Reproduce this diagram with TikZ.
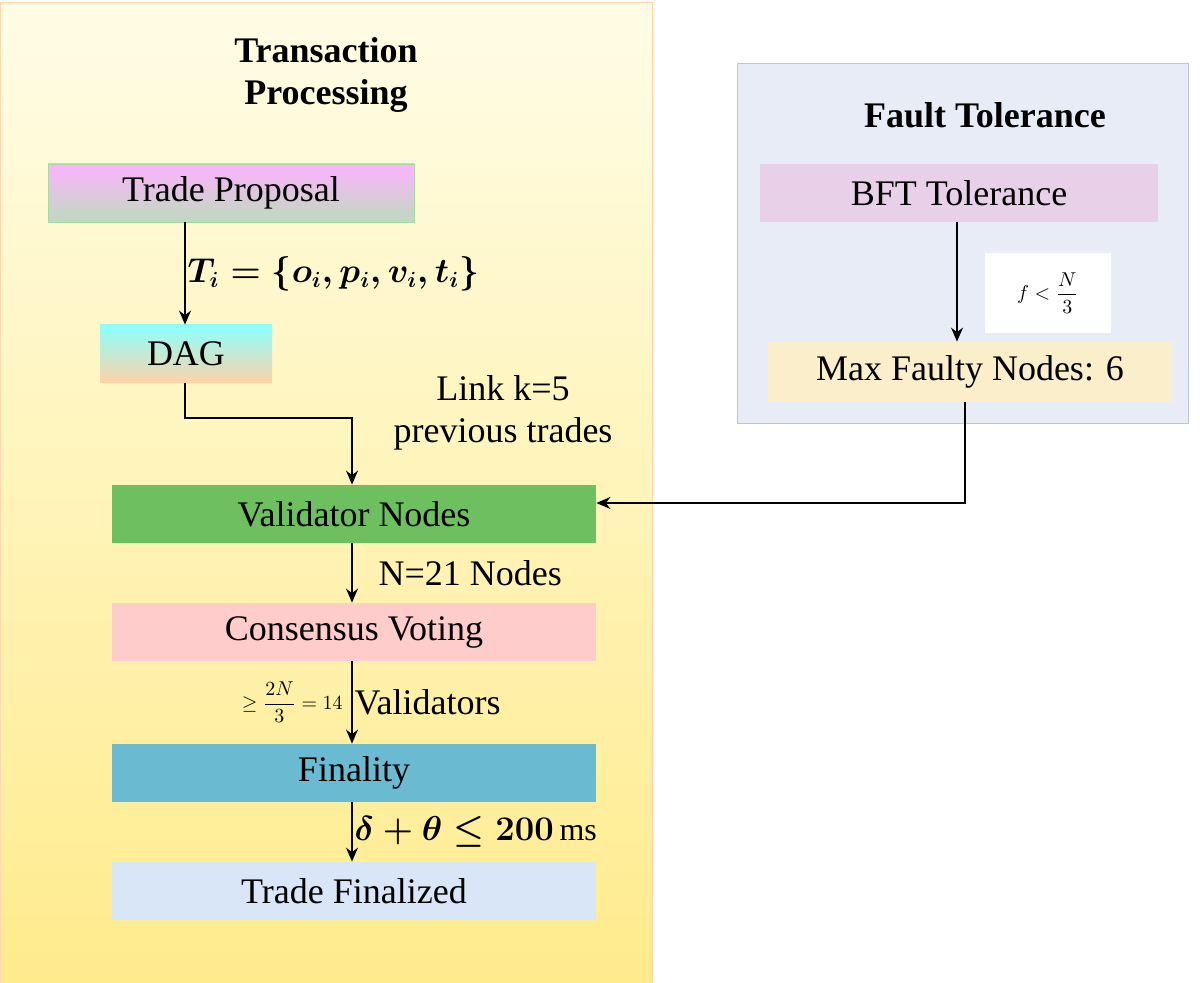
\documentclass[tikz,border=0pt]{standalone}
\usepackage{amsmath}
\usepackage{fontspec}
\setmainfont{Liberation Serif}
\usetikzlibrary{arrows.meta}
\definecolor{fin}{HTML}{6ABBD1}
\definecolor{tfin}{HTML}{D8E6F7}
\definecolor{rp}{HTML}{E8ECF6}
\definecolor{mfc}{HTML}{FBEECB}
\definecolor{vng}{HTML}{6DBF5F}
\begin{document}
\begin{tikzpicture}[x=0.5pt,y=-0.5pt,
 box/.style={minimum height=29pt,inner sep=0pt,font=\fontsize{18}{21}\selectfont},
 lbl/.style={font=\fontsize{18}{21}\selectfont,inner sep=1pt},
 arr/.style={-{Stealth[length=7pt,width=6pt]},line width=0.7pt}]
\useasboundingbox (0,0) rectangle (1200,983);
\shade[top color=yellow!8!white!98!orange,bottom color=orange!35!yellow!45!white,draw=orange!30] (0,2) rectangle (652,983);
\fill[rp,draw=blue!20!gray!40] (737,63) rectangle (1188,423);
\node[font=\fontsize{18}{21}\selectfont\bfseries,align=center] (t1) at (326,75) {Transaction\\Processing};
\node[font=\fontsize{18}{21}\selectfont\bfseries] (t2) at (985,115) {Fault Tolerance};
\node[box,minimum width=183pt,top color=magenta!30,bottom color=green!30!gray!40,draw=green!40!gray!50] (tp) at (231,193) {Trade Proposal};
\node[box,minimum width=86pt,top color=cyan!45,bottom color=orange!35] (dag) at (186,354) {DAG};
\node[box,minimum width=242pt,fill=vng] (vn) at (354,514) {Validator Nodes};
\node[box,minimum width=242pt,fill=red!20!white] (cv) at (354,632) {Consensus Voting};
\node[box,minimum width=242pt,fill=fin] (fi) at (354,773) {Finality};
\node[box,minimum width=242pt,fill=tfin] (tf) at (354,891) {Trade Finalized};
\node[box,minimum width=199pt,fill=violet!18!white] (bft) at (959,193) {BFT Tolerance};
\node[box,minimum width=202pt,minimum height=30pt,fill=mfc] (mf) at (970,372) {Max Faulty Nodes: 6};
\coordinate (d1) at (185,418); \coordinate (d2) at (352,418);
\coordinate (m1) at (965,503);
\draw[arr] (tp.south -| 185,0) -- (dag.north -| 185,0) node[midway,right,lbl,font=\fontsize{16}{19}\selectfont] {$\boldsymbol{T_i=\{o_i,p_i,v_i,t_i\}}$};
\draw[arr] (dag.south -| 185,0) -- (d1) -- (d2) -- (vn.north -| 352,0);
\node[lbl,align=center] (lk) at (503,413) {Link k=5\\previous trades};
\draw[arr] (vn.south -| 352,0) -- (cv.north -| 352,0) node[midway,right=12pt,lbl] {N=21 Nodes};
\draw[arr] (cv.south -| 352,0) -- (fi.north -| 352,0) node[midway,right,lbl] {Validators} node[midway,left=1pt,font=\fontsize{10}{12}\selectfont] {$\geq\dfrac{2N}{3}=14$};
\draw[arr] (fi.south -| 352,0) -- (tf.north -| 352,0) node[midway,right,lbl,font=\fontsize{16}{19}\selectfont] {$\boldsymbol{\delta+\theta\leq 200}\,$ms};
\node[fill=white,minimum width=63pt,minimum height=40pt,font=\fontsize{10}{12}\selectfont] (fl) at (1048,293) {$f<\dfrac{N}{3}$};
\draw[arr] (bft.south -| 957,0) -- (mf.north -| 957,0);
\draw[arr] (mf.south -| 965,0) -- (m1) -- (vn.east |- m1);
\end{tikzpicture}
\end{document}
